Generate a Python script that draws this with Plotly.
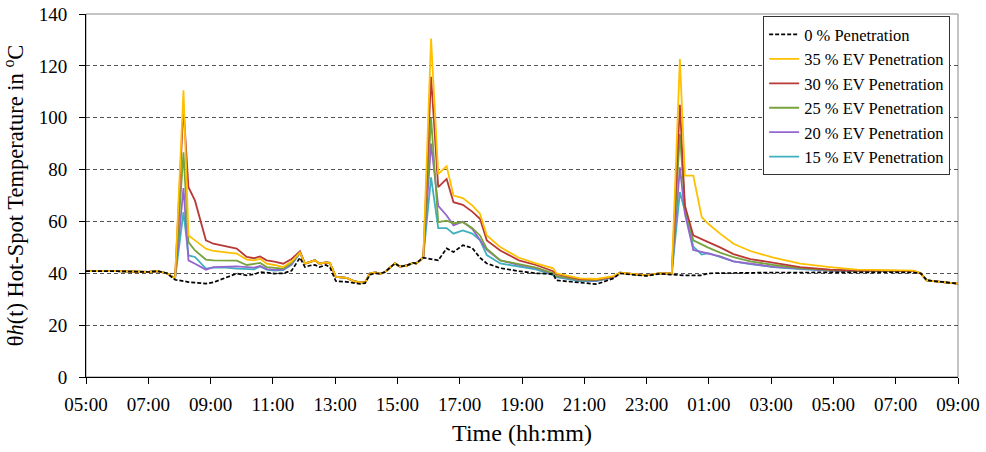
import plotly.graph_objects as go
from datetime import datetime, timedelta

# hours after 05:00 on day 1
hours = [0.0, 1.0, 2.0, 2.3, 2.6, 2.86, 3.13, 3.29, 3.5, 3.85, 4.09, 4.5, 4.84, 5.16, 5.4, 5.59,
         5.8, 6.05, 6.33, 6.6, 6.87, 7.03, 7.2, 7.35, 7.5, 7.7, 7.83, 8.02, 8.37, 8.6, 8.8, 8.96,
         9.12, 9.3, 9.44, 9.6, 9.92, 10.08, 10.3, 10.5, 10.6, 10.83, 11.08, 11.31, 11.58, 11.8,
         12.1, 12.4, 12.65, 12.87, 13.3, 13.9, 14.45, 15.0, 15.1, 15.86, 16.4, 16.93, 17.15, 17.5,
         18.0, 18.4, 18.81, 19.07, 19.23, 19.5, 19.77, 19.98, 20.36, 20.79, 21.33, 22.08, 22.93,
         23.9, 24.76, 25.72, 26.58, 26.8, 27.0, 27.44, 28.0]

pen0 = [40.8, 40.8, 40.5, 40.8, 40.0, 37.5, 37.0, 36.6, 36.4, 36.0, 36.5, 38.5, 39.9, 39.2, 39.6, 40.5,
        40.2, 39.9, 40.0, 41.0, 46.0, 42.4, 43.0, 43.2, 42.4, 43.2, 42.4, 37.0, 36.7, 36.2, 35.9, 36.2,
        39.5, 40.0, 39.8, 40.5, 43.8, 42.6, 43.0, 44.0, 43.8, 46.0, 45.5, 45.0, 49.6, 48.2,
        50.8, 49.8, 46.0, 43.8, 42.0, 40.8, 40.0, 39.7, 37.3, 36.3, 35.8, 38.0, 40.0, 39.5,
        39.0, 39.8, 39.5, 39.2, 39.2, 39.2, 39.2, 40.0, 40.1, 40.2, 40.2, 40.3, 40.3,
        40.4, 40.4, 40.4, 40.3, 40.0, 37.3, 36.7, 36.0]

pen35 = [40.8, 40.8, 40.5, 40.8, 40.0, 38.0, 110.6, 54.6, 52.7, 49.5, 48.6, 48.0, 47.6, 45.3, 45.0, 45.6,
         43.7, 43.2, 42.4, 44.5, 48.0, 43.7, 44.3, 45.0, 43.7, 44.2, 44.0, 38.6, 38.2, 37.0, 36.5, 36.5,
         40.0, 40.3, 39.8, 40.5, 43.8, 42.6, 43.0, 44.0, 43.8, 46.1, 130.5, 78.3, 81.3, 70.0,
         69.0, 66.2, 63.0, 54.6, 50.1, 46.0, 43.8, 41.9, 40.0, 38.0, 37.8, 38.9, 40.2, 39.7,
         39.2, 40.0, 40.0, 122.6, 77.7, 77.7, 61.7, 59.1, 55.3, 51.4, 48.6, 46.0, 43.7,
         42.4, 41.4, 41.2, 41.0, 40.0, 37.3, 36.7, 36.0]

pen30 = [40.8, 40.8, 40.5, 40.8, 40.0, 38.0, 104.2, 73.2, 68.0, 52.7, 51.4, 50.5, 49.5, 46.3, 45.8, 46.5,
         45.0, 44.5, 43.7, 45.5, 48.5, 43.7, 44.3, 45.0, 43.7, 44.2, 44.0, 38.6, 38.2, 37.0, 36.5, 36.5,
         40.0, 40.3, 39.8, 40.5, 43.8, 42.6, 43.0, 44.0, 43.8, 46.1, 115.8, 73.2, 76.4, 67.4,
         66.4, 63.8, 61.0, 52.7, 48.8, 45.0, 43.2, 40.8, 39.8, 37.8, 37.6, 38.7, 40.2, 39.7,
         39.2, 40.0, 40.0, 105.0, 66.0, 54.6, 53.0, 52.0, 50.0, 47.4, 45.5, 44.0, 42.4,
         41.4, 41.0, 41.0, 40.8, 40.0, 37.3, 36.7, 36.0]

pen25 = [40.8, 40.8, 40.5, 40.8, 40.0, 38.0, 86.7, 52.0, 48.8, 45.3, 45.0, 45.0, 44.9, 43.2, 43.5, 44.0,
         42.4, 42.0, 41.8, 44.0, 48.2, 43.7, 44.3, 45.0, 43.7, 44.2, 44.0, 38.6, 38.2, 37.0, 36.5, 36.5,
         40.0, 40.3, 39.8, 40.5, 43.8, 42.6, 43.0, 44.0, 43.8, 46.1, 100.0, 59.7, 60.3, 59.3,
         59.7, 57.5, 54.6, 49.5, 45.0, 43.5, 42.2, 40.0, 39.0, 37.5, 37.4, 38.6, 40.2, 39.7,
         39.2, 40.0, 40.0, 93.7, 66.0, 52.7, 51.0, 49.9, 48.0, 46.2, 44.6, 43.2, 42.0,
         41.2, 40.9, 40.9, 40.8, 40.0, 37.3, 36.7, 36.0]

pen20 = [40.8, 40.8, 40.5, 40.8, 40.0, 38.0, 72.9, 45.0, 43.7, 41.4, 42.4, 42.6, 42.7, 42.4, 42.2, 42.8,
         41.6, 41.3, 41.4, 43.5, 48.0, 43.7, 44.3, 45.0, 43.7, 44.2, 44.0, 38.6, 38.2, 37.0, 36.5, 36.5,
         40.0, 40.3, 39.8, 40.5, 43.8, 42.6, 43.0, 44.0, 43.8, 46.1, 90.0, 66.0, 62.3, 58.5,
         59.9, 57.2, 52.8, 49.0, 45.0, 43.2, 42.0, 39.8, 38.8, 37.3, 37.2, 38.5, 40.2, 39.7,
         39.2, 40.0, 40.0, 80.9, 63.0, 49.0, 48.2, 47.8, 46.5, 44.6, 43.7, 42.5, 41.8,
         41.0, 40.8, 40.8, 40.8, 40.0, 37.3, 36.7, 36.0]

pen15 = [40.8, 40.8, 40.5, 40.8, 40.0, 38.0, 63.6, 46.9, 46.3, 41.8, 42.2, 42.2, 41.8, 41.7, 41.5, 42.6,
         41.4, 41.0, 41.2, 43.3, 47.8, 43.7, 44.3, 45.0, 43.7, 44.2, 44.0, 38.6, 38.2, 37.0, 36.5, 36.5,
         40.0, 40.3, 39.8, 40.5, 43.8, 42.6, 43.0, 44.0, 43.8, 46.1, 77.0, 57.4, 57.4, 55.3,
         56.5, 55.3, 52.8, 47.0, 43.8, 42.5, 41.5, 39.3, 38.5, 37.0, 37.0, 38.4, 40.2, 39.7,
         39.2, 40.0, 40.0, 71.3, 64.0, 50.3, 47.2, 47.8, 46.3, 44.6, 43.5, 42.4, 41.6,
         41.0, 40.8, 40.8, 40.8, 40.0, 37.3, 36.7, 36.0]

series_names = ["0 % Penetration", "35 % EV Penetration", "30 % EV Penetration",
                "25 % EV Penetration", "20 % EV Penetration", "15 % EV Penetration"]
series_values = [pen0, pen35, pen30, pen25, pen20, pen15]
series_colors = ["#000000", "#FFC000", "#B83A36", "#77A33D", "#9466D0", "#3FB0BE"]

t0 = datetime(2024, 1, 1, 5, 0)
times = [t0 + timedelta(hours=h) for h in hours]

fig = go.Figure()
draw_order = [5, 4, 3, 2, 1, 0]
for i in draw_order:
    fig.add_trace(go.Scatter(
        x=times, y=series_values[i], mode="lines", name=series_names[i],
        line=dict(color=series_colors[i], width=1.8 if i else 1.7,
                  dash="4px,2px" if i == 0 else "solid"),
        legendrank=i + 1,
    ))

font_family = "Liberation Serif, Times New Roman, serif"
fig.update_layout(
    width=986, height=452,
    margin=dict(l=86, r=28, t=14, b=75),
    paper_bgcolor="white", plot_bgcolor="white",
    font=dict(family=font_family, color="black"),
    showlegend=True,
    legend=dict(x=0.991, xanchor="right", y=0.994, yanchor="top",
                bgcolor="white", bordercolor="#333333", borderwidth=1,
                font=dict(family=font_family, size=16.5, color="black"),
                tracegroupgap=0, itemwidth=30),
    shapes=[dict(type="rect", xref="paper", yref="paper", x0=0, x1=1, y0=0, y1=1,
                 line=dict(color="#888888", width=1), layer="below")],
)
fig.update_xaxes(
    type="date", automargin=False,
    range=[t0, t0 + timedelta(hours=28)],
    tick0=t0, dtick=2 * 3600 * 1000, tickformat="%H:%M",
    ticks="outside", ticklen=6, tickcolor="black", tickwidth=1,
    showline=True, linecolor="black", linewidth=1,
    showgrid=False, zeroline=False,
    tickfont=dict(family=font_family, size=19),
    ticklabelstandoff=4,
    title=dict(text="Time (hh:mm)", font=dict(family=font_family, size=24), standoff=10),
)
fig.update_yaxes(
    automargin=False,
    range=[0, 140], dtick=20,
    ticks="outside", ticklen=6, tickcolor="black", tickwidth=1,
    showline=True, linecolor="black", linewidth=1,
    showgrid=True, gridcolor="#555555", griddash="4px,3px", gridwidth=1,
    zeroline=False,
    tickfont=dict(family=font_family, size=19),
    ticklabelstandoff=8,
    title=dict(text="θ<i>h</i>(t) Hot-Spot Temperature in <sup>o</sup>C",
               font=dict(family=font_family, size=22.5), standoff=10),
)

fig.write_html("out.html")
